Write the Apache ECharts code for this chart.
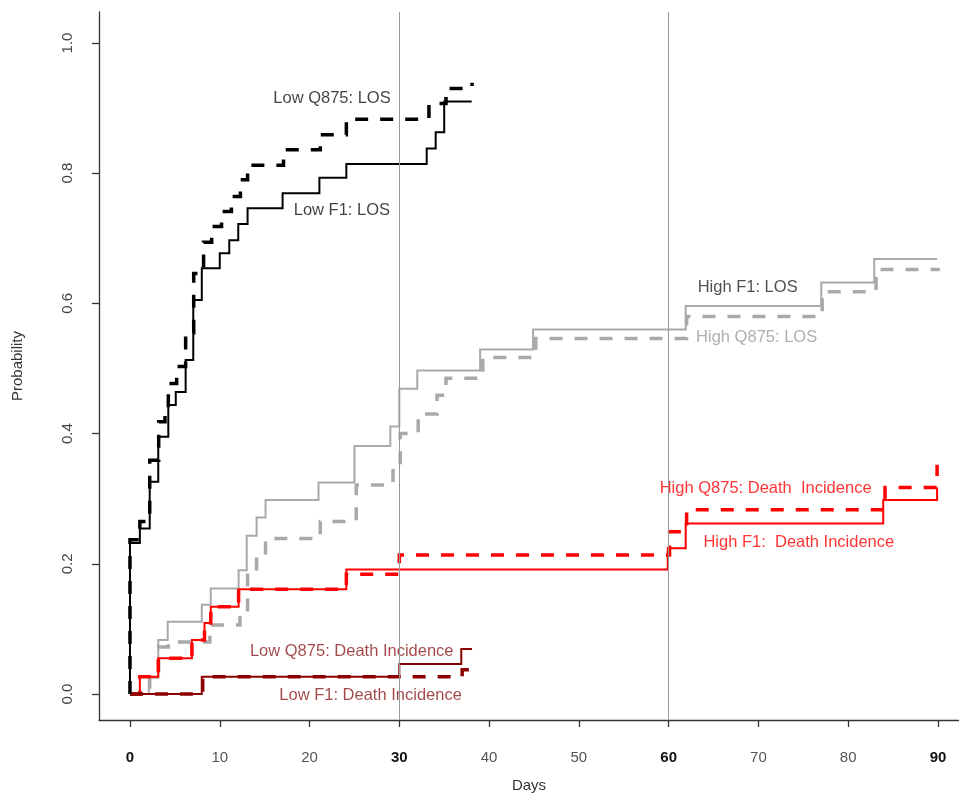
<!DOCTYPE html>
<html>
<head>
<meta charset="utf-8">
<script src="https://cdn.jsdelivr.net/npm/echarts@6/dist/echarts.min.js"></script>
<style>
  html, body { margin: 0; padding: 0; background: #fff; }
  #chart { width: 959px; height: 796px; }
</style>
</head>
<body>
<div id="chart"></div>
<script>
// step curves: days where the value changes, and the value from that day on
var lowF1LosDays = [0, 0, 1.1, 2.2, 3.15, 4.27, 5.1, 6.2, 7.05, 8.0, 10.0, 11.06, 12.06, 13.1, 17.0, 21.1, 24.1, 33.05, 34.05, 35.0, 38.06];
var lowF1LosProb = [0, 0.232, 0.254, 0.326, 0.395, 0.444, 0.464, 0.513, 0.605, 0.654, 0.677, 0.697, 0.722, 0.746, 0.769, 0.793, 0.814, 0.838, 0.863, 0.910, 0.910];

var lowQ875LosDays = [0, 0, 1.1, 2.2, 3.2, 3.9, 4.27, 5.2, 6.2, 7.1, 8.2, 9.1, 10.2, 11.3, 12.3, 13.1, 17.1, 21.2, 24.1, 33.3, 35.2, 38.1];
var lowQ875LosProb = [0, 0.237, 0.265, 0.359, 0.418, 0.44, 0.477, 0.503, 0.555, 0.646, 0.694, 0.718, 0.741, 0.764, 0.79, 0.812, 0.836, 0.859, 0.883, 0.907, 0.930, 0.939];

var highF1LosDays = [0, 2.1, 3.15, 4.2, 8.0, 9.0, 12.1, 13.0, 14.1, 15.1, 21.0, 25.0, 29.0, 30.0, 32.0, 39.0, 44.9, 61.9, 77.0, 82.9, 89.9];
var highF1LosProb = [0, 0.025, 0.083, 0.111, 0.137, 0.162, 0.190, 0.243, 0.271, 0.298, 0.325, 0.381, 0.411, 0.469, 0.497, 0.529, 0.560, 0.596, 0.632, 0.668, 0.668];

var highQ875LosDays = [0, 2.2, 3.2, 4.27, 8.9, 12.25, 13.1, 14.1, 15.1, 21.2, 25.2, 29.3, 30.1, 32.1, 34.2, 35.2, 39.3, 45.2, 62.0, 77.1, 83.1, 90.2];
var highQ875LosProb = [0, 0.025, 0.072, 0.080, 0.106, 0.121, 0.188, 0.213, 0.239, 0.265, 0.321, 0.349, 0.400, 0.430, 0.459, 0.485, 0.517, 0.546, 0.580, 0.618, 0.652, 0.652];

var highF1DeathDays = [0, 1.1, 3.15, 6.9, 8.3, 9.0, 12.1, 24.1, 59.9, 61.9, 83.9, 89.9];
var highF1DeathProb = [0, 0.0266, 0.0548, 0.083, 0.109, 0.134, 0.161, 0.191, 0.224, 0.262, 0.298, 0.317];

var highQ875DeathDays = [0, 1.1, 3.15, 6.9, 8.3, 9.0, 12.1, 24.1, 30.0, 60.1, 62.0, 84.1, 89.9];
var highQ875DeathProb = [0, 0.0266, 0.0548, 0.083, 0.109, 0.134, 0.161, 0.184, 0.2135, 0.249, 0.283, 0.317, 0.352];

var lowF1DeathDays = [0, 8.0, 30.0, 36.9, 38.1];
var lowF1DeathProb = [0, 0.0266, 0.046, 0.069, 0.069];

var lowQ875DeathDays = [0, 8.1, 37.0, 37.9, 38.1];
var lowQ875DeathProb = [0, 0.0266, 0.037, 0.050, 0.050];

var xTicks = [0, 10, 20, 30, 40, 50, 60, 70, 80, 90];
var yTicks = [0, 0.2, 0.4, 0.6, 0.8, 1.0];
var refDays = [30, 60];

// curve labels, anchored in data units (day, probability)
var labelTexts = ['Low Q875: LOS', 'Low F1: LOS', 'High F1: LOS', 'High Q875: LOS',
                  'High Q875: Death  Incidence', 'High F1:  Death Incidence',
                  'Low Q875: Death Incidence', 'Low F1: Death Incidence'];
var labelDays = [22.5, 23.6, 68.8, 69.8, 70.8, 74.5, 24.7, 26.8];
var labelProb = [0.9155, 0.742, 0.625, 0.548, 0.315, 0.2335, 0.066, -0.003];
var labelColors = ['#111111', '#111111', '#262626', '#9a9a9a', '#ff0000', '#ff0000', '#8b1a1a', '#8b1a1a'];

function pairs(days, prob) {
    return days.map(function (d, i) { return [d, prob[i]]; });
}

function stepSeries(name, days, prob, color, width, dashed) {
    return {
        name: name,
        type: 'line',
        step: 'end',
        showSymbol: false,
        silent: true,
        data: pairs(days, prob),
        lineStyle: { color: color, width: width, type: dashed ? [13, 12] : 'solid', cap: 'butt', join: 'miter' }
    };
}

var myChart = echarts.init(document.getElementById('chart'));

var FONT = '"Liberation Sans", Arial, sans-serif';

var option = {
    animation: false,
    backgroundColor: '#ffffff',
    grid: { left: 99, right: 0, top: 12, bottom: 76, outerBoundsMode: 'none' },
    xAxis: {
        type: 'value',
        min: -3.45,
        max: 92.34,
        name: 'Days',
        nameLocation: 'middle',
        nameGap: 58,
        nameTextStyle: { color: '#333', fontSize: 15, fontFamily: FONT },
        splitLine: { show: false },
        axisLine: { show: true, onZero: false, lineStyle: { color: '#333', width: 1.3 } },
        axisTick: { show: true, length: 7, inside: false, customValues: xTicks, lineStyle: { color: '#333', width: 1.3 } },
        axisLabel: {
            customValues: xTicks,
            margin: 30,
            fontFamily: FONT,
            fontSize: 15,
            formatter: function (v) {
                return v % 30 === 0 ? '{b|' + v + '}' : '{n|' + v + '}';
            },
            rich: {
                b: { fontWeight: 'bold', color: '#111', fontSize: 15, fontFamily: FONT },
                n: { color: '#555', fontSize: 15, fontFamily: FONT }
            }
        }
    },
    yAxis: {
        type: 'value',
        min: -0.04,
        max: 1.0476,
        name: 'Probability',
        nameLocation: 'middle',
        nameGap: 74,
        nameRotate: 90,
        nameTextStyle: { color: '#333', fontSize: 15, fontFamily: FONT },
        splitLine: { show: false },
        axisLine: { show: true, onZero: false, lineStyle: { color: '#333', width: 1.3 } },
        axisTick: { show: true, length: 7, inside: false, customValues: yTicks, lineStyle: { color: '#333', width: 1.3 } },
        axisLabel: {
            customValues: yTicks,
            rotate: 90,
            margin: 24,
            color: '#444',
            fontSize: 15,
            fontFamily: FONT,
            formatter: function (v) { return v.toFixed(1); }
        }
    },
    series: [
        {
            name: 'ref',
            type: 'line',
            data: [],
            silent: true,
            markLine: {
                silent: true,
                symbol: 'none',
                label: { show: false },
                lineStyle: { color: '#999', width: 1, type: 'solid' },
                data: refDays.map(function (d) { return { xAxis: d }; })
            }
        },
        stepSeries('High F1: LOS', highF1LosDays, highF1LosProb, '#a9a9a9', 2, false),
        stepSeries('High Q875: LOS', highQ875LosDays, highQ875LosProb, '#a9a9a9', 3.5, true),
        stepSeries('High F1: Death', highF1DeathDays, highF1DeathProb, '#ff0000', 2, false),
        stepSeries('High Q875: Death', highQ875DeathDays, highQ875DeathProb, '#ff0000', 3.5, true),
        stepSeries('Low F1: Death', lowF1DeathDays, lowF1DeathProb, '#8b0000', 2, false),
        stepSeries('Low Q875: Death', lowQ875DeathDays, lowQ875DeathProb, '#8b0000', 3.5, true),
        stepSeries('Low F1: LOS', lowF1LosDays, lowF1LosProb, '#000000', 2, false),
        stepSeries('Low Q875: LOS', lowQ875LosDays, lowQ875LosProb, '#000000', 3.5, true),
        {
            name: 'labels',
            type: 'scatter',
            symbolSize: 0,
            silent: true,
            data: labelTexts.map(function (t, i) {
                return {
                    name: t,
                    value: [labelDays[i], labelProb[i]],
                    label: { color: labelColors[i] }
                };
            }),
            label: {
                show: true,
                position: 'inside',
                formatter: '{b}',
                fontSize: 16.5,
                fontFamily: FONT
            }
        }
    ]
};

myChart.setOption(option);
</script>
</body>
</html>
